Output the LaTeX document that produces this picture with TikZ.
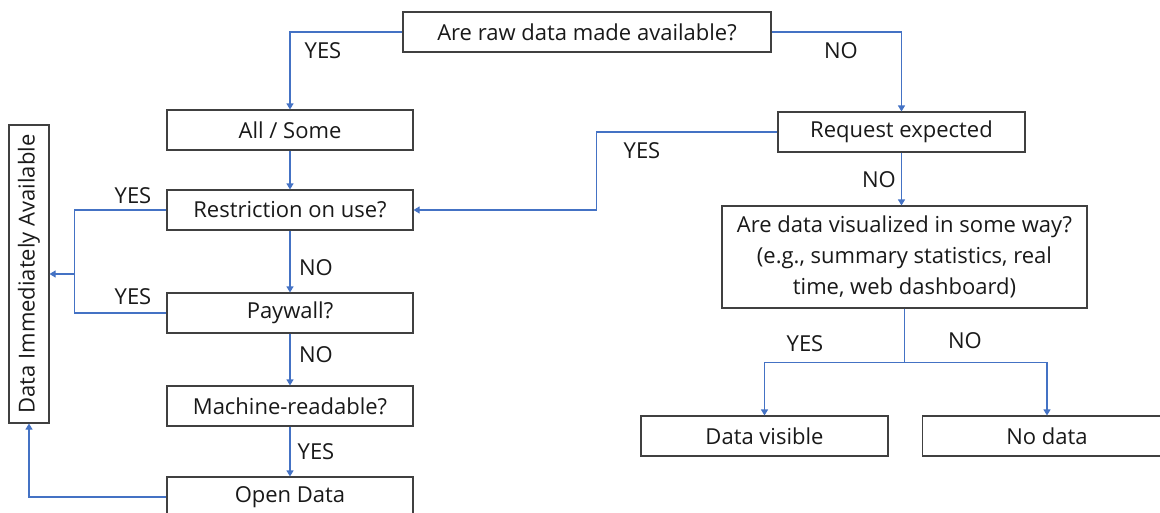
\documentclass[tikz,border=0pt]{standalone}
\usepackage{fontspec}
\setmainfont{Open Sans}
\usetikzlibrary{arrows.meta}
\definecolor{connblue}{HTML}{4472C4}
\definecolor{boxline}{HTML}{404040}
\begin{document}
\begin{tikzpicture}[x=1pt,y=-1pt,
  txt/.style={font=\fontsize{22}{31}\selectfont,text=black!90},
  box/.style={txt,draw=boxline,line width=1.1pt,minimum height=40pt,inner sep=0pt},
  conn/.style={draw=connblue,line width=1.1pt},
  arr/.style={conn,-{Triangle[length=6pt,width=7pt]}},
  lbl/.style={txt,inner sep=0pt}]
\useasboundingbox (0,0) rectangle (1160,512);
% boxes
\node[box,minimum width=368pt] (q) at (587,32) {Are raw data made available?};
\node[box,minimum width=246pt] (as) at (290,130) {All / Some};
\node[box,minimum width=246pt] (res) at (290,210) {Restriction on use?};
\node[box,minimum width=246pt] (pw) at (290,313) {Paywall?};
\node[box,minimum width=246pt] (mr) at (290,406) {Machine-readable?};
\node[box,minimum width=246pt] (od) at (290,497) {Open Data};
\node[box,minimum width=40pt,minimum height=298pt] (dia) at (29,274) {\rotatebox{90}{Data Immediately Available}};
\node[box,minimum width=247pt] (req) at (901.5,132) {Request expected};
\node[box,minimum width=365pt,minimum height=102pt,align=center] (vis) at (904.5,257) {Are data visualized in some way?\\(e.g., summary statistics, real\\time, web dashboard)};
\node[box,minimum width=247pt] (dv) at (764.5,436) {Data visible};
\node[box,minimum width=249pt] (nd) at (1047,436) {No data};
% connectors
\draw[arr] (q.west) -| (as.north);
\draw[arr] (q.east) -| (req.north);
\draw[arr] (as) -- (res);
\draw[arr] (req.west) -- ++(-181,0) |- (res.east);
\draw[arr] (req.south) -- (req.south |- vis.north);
\draw[conn] (res.west) -- ++(-92,0) coordinate (j1) |- (pw.west);
\draw[arr] (j1 |- dia.east) -- (dia.east);
\draw[arr] (res) -- (pw);
\draw[arr] (pw) -- (mr);
\draw[arr] (mr) -- (od);
\draw[arr] (od.west) -| (dia.south);
\draw[conn] (vis.south) -- ++(0,54) coordinate (j2);
\draw[arr] (j2) -| (dv.north);
\draw[arr] (j2) -| (nd.north);
% labels
\node[lbl] (l1) at (323,51) {YES};
\node[lbl] (l2) at (841,51) {NO};
\node[lbl] (l3) at (642,151) {YES};
\node[lbl] (l4) at (879,180) {NO};
\node[lbl] (l5) at (133,196) {YES};
\node[lbl] (l6) at (133,297) {YES};
\node[lbl] (l7) at (316,268) {NO};
\node[lbl] (l8) at (316,355) {NO};
\node[lbl] (l9) at (316,452) {YES};
\node[lbl] (l10) at (805,344) {YES};
\node[lbl] (l11) at (965,341) {NO};
\end{tikzpicture}
\end{document}
